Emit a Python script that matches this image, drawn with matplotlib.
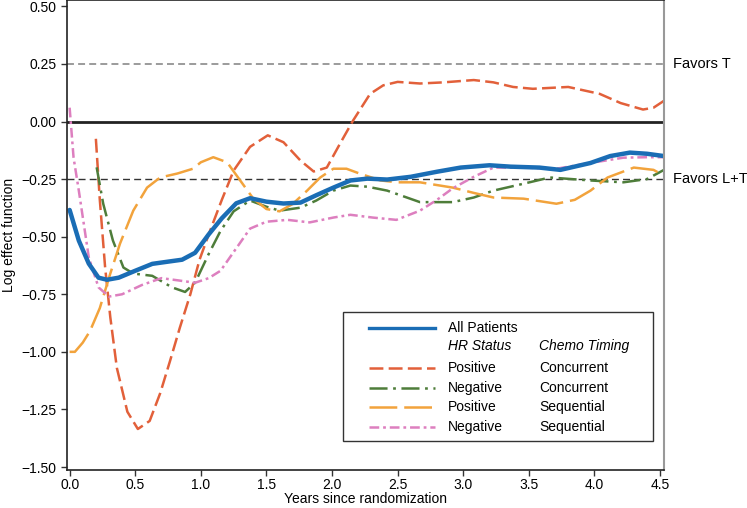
import matplotlib
matplotlib.use("Agg")
import matplotlib.pyplot as plt
import matplotlib.transforms as mtransforms
from matplotlib.patches import Rectangle
from matplotlib.lines import Line2D

plt.rcParams['font.family'] = ['Liberation Sans', 'DejaVu Sans']
plt.rcParams['lines.scale_dashes'] = False

# All patients
all_x = [0, 0.07, 0.146, 0.22, 0.285, 0.374, 0.5, 0.63, 0.755, 0.857, 0.956, 1.06,
         1.16, 1.27, 1.375, 1.5, 1.63, 1.76, 1.88, 2.01, 2.14, 2.27, 2.42, 2.6, 2.8,
         2.98, 3.2, 3.36, 3.58, 3.74, 3.97, 4.12, 4.27, 4.4, 4.53]
all_y = [-0.384, -0.517, -0.617, -0.678, -0.687, -0.678, -0.648, -0.618, -0.608,
         -0.60, -0.57, -0.49, -0.42, -0.355, -0.333, -0.348, -0.356, -0.352, -0.32,
         -0.287, -0.256, -0.248, -0.252, -0.24, -0.218, -0.20, -0.19, -0.196, -0.20,
         -0.21, -0.18, -0.15, -0.135, -0.14, -0.15]

# HR positive, concurrent chemo
pc_x = [0.2, 0.23, 0.27, 0.31, 0.36, 0.44, 0.52, 0.61, 0.69, 0.765, 0.84, 0.92, 0.99,
        1.07, 1.16, 1.25, 1.375, 1.51, 1.63, 1.76, 1.86, 1.96, 2.06, 2.16, 2.29, 2.39,
        2.5, 2.67, 2.85, 3.08, 3.23, 3.38, 3.53, 3.8, 4.04, 4.2, 4.37, 4.45, 4.53]
pc_y = [-0.075, -0.34, -0.63, -0.85, -1.07, -1.26, -1.335, -1.30, -1.18, -1.04,
        -0.895, -0.75, -0.60, -0.475, -0.34, -0.213, -0.11, -0.06, -0.09, -0.17,
        -0.217, -0.20, -0.097, 0.004, 0.12, 0.157, 0.172, 0.165, 0.17, 0.18, 0.17,
        0.15, 0.142, 0.15, 0.12, 0.08, 0.052, 0.06, 0.09]

# HR negative, concurrent chemo
nc_x = [0.206, 0.256, 0.33, 0.41, 0.485, 0.63, 0.78, 0.88, 0.956, 1.06, 1.15, 1.25,
        1.375, 1.5, 1.6, 1.76, 1.88, 2.01, 2.14, 2.27, 2.42, 2.52, 2.67, 2.92, 3.08,
        3.23, 3.46, 3.66, 3.97, 4.22, 4.4, 4.53]
nc_y = [-0.199, -0.357, -0.517, -0.634, -0.66, -0.67, -0.72, -0.74, -0.70, -0.575,
        -0.475, -0.39, -0.343, -0.37, -0.387, -0.374, -0.343, -0.30, -0.278, -0.283,
        -0.30, -0.32, -0.35, -0.35, -0.33, -0.30, -0.27, -0.243, -0.256, -0.264,
        -0.25, -0.21]

# HR positive, sequential chemo
ps_x = [0, 0.04, 0.1, 0.155, 0.23, 0.31, 0.384, 0.485, 0.59, 0.69, 0.82, 0.94, 1.0,
        1.095, 1.2, 1.3, 1.4, 1.5, 1.6, 1.7, 1.81, 1.91, 2.01, 2.11, 2.21, 2.37, 2.5,
        2.67, 2.92, 3.08, 3.23, 3.46, 3.71, 3.85, 3.97, 4.1, 4.3, 4.45, 4.53]
ps_y = [-1.0, -1.0, -0.96, -0.91, -0.81, -0.66, -0.53, -0.387, -0.287, -0.243,
        -0.226, -0.205, -0.177, -0.155, -0.177, -0.256, -0.335, -0.38, -0.39, -0.358,
        -0.30, -0.243, -0.205, -0.205, -0.226, -0.256, -0.264, -0.264, -0.287, -0.31,
        -0.33, -0.335, -0.357, -0.34, -0.30, -0.243, -0.20, -0.21, -0.235]

# HR negative, sequential chemo
ns_x = [0, 0.03, 0.07, 0.146, 0.22, 0.30, 0.40, 0.55, 0.70, 0.83, 0.956, 1.06, 1.15,
        1.375, 1.5, 1.66, 1.83, 2.01, 2.14, 2.31, 2.49, 2.67, 2.8, 2.92, 3.08, 3.23,
        3.46, 3.71, 3.97, 4.22, 4.4, 4.53]
ns_y = [0.06, -0.157, -0.30, -0.59, -0.72, -0.76, -0.75, -0.71, -0.68, -0.69, -0.70,
        -0.68, -0.648, -0.465, -0.435, -0.427, -0.438, -0.417, -0.405, -0.417, -0.427,
        -0.387, -0.34, -0.29, -0.24, -0.20, -0.20, -0.205, -0.18, -0.157, -0.155,
        -0.155]

hr_status = ["Positive", "Negative", "Positive", "Negative"]
chemo_timing = ["Concurrent", "Concurrent", "Sequential", "Sequential"]

blue = "#1a6db5"
red = "#e2603a"
green = "#4e7d3a"
orange = "#f2a33c"
pink = "#dd7fbf"

red_ls = (0, (10, 3.8))
green_ls = (0, (13, 4, 2, 4))
orange_ls = (0, (20, 5))
pink_ls = (0, (7, 2.8, 2, 2.8))

fig = plt.figure(figsize=(7.47, 5.08), dpi=100)
ax = fig.add_axes([0.0897, 0.0748, 0.7992, 0.9245])

ax.axhline(0.25, color="#808080", lw=1.1, ls=(0, (5, 3)))
ax.axhline(-0.25, color="#333333", lw=1.0, ls=(0, (5, 3)))
ax.axhline(0, color="#222222", lw=2.0)

ax.plot(pc_x, pc_y, color=red, lw=1.8, ls=red_ls)
ax.plot(nc_x, nc_y, color=green, lw=1.8, ls=green_ls)
ax.plot(ps_x, ps_y, color=orange, lw=1.8, ls=orange_ls)
ax.plot(ns_x, ns_y, color=pink, lw=1.8, ls=pink_ls)
ax.plot(all_x, all_y, color=blue, lw=3.2, solid_capstyle="round",
        solid_joinstyle="round")

ax.set_xlim(-0.02, 4.53)
ax.set_ylim(-1.513, 0.526)
ax.set_xticks([0, 0.5, 1.0, 1.5, 2.0, 2.5, 3.0, 3.5, 4.0, 4.5])
ax.set_xticklabels([f"{v:.1f}" for v in ax.get_xticks()])
ax.set_yticks([0.5, 0.25, 0, -0.25, -0.5, -0.75, -1.0, -1.25, -1.5])
ax.set_yticklabels([f"{v:.2f}".replace("-", "\u2212") for v in ax.get_yticks()])
ax.tick_params(labelsize=10, length=4, width=1, color="#333333", direction="out")
ax.tick_params(axis="x", pad=2)
ax.set_xlabel("Years since randomization", fontsize=10, labelpad=0)
ax.set_ylabel("Log effect function", fontsize=10, labelpad=4)

for side in ["left", "bottom", "top"]:
    ax.spines[side].set_color("#222222")
    ax.spines[side].set_linewidth(1.2)
ax.spines["right"].set_color("#999999")
ax.spines["right"].set_linewidth(1.5)

trans = mtransforms.blended_transform_factory(ax.transAxes, ax.transData)
ax.text(1.015, 0.25, "Favors T", transform=trans, fontsize=10.5, va="center",
        ha="left", clip_on=False)
ax.text(1.015, -0.25, "Favors L+T", transform=trans, fontsize=10.5, va="center",
        ha="left", clip_on=False)

# legend drawn by hand to get the two text columns
ax.add_patch(Rectangle((0.462, 0.062), 0.52, 0.274, transform=ax.transAxes,
                       facecolor="white", edgecolor="#333333", lw=1.0, zorder=5))
rows = [0.302, 0.264, 0.217, 0.174, 0.134, 0.091]
x0, x1, c1, c2 = 0.506, 0.616, 0.638, 0.791
ax.add_line(Line2D([x0, x1], [rows[0], rows[0]], transform=ax.transAxes,
                   color=blue, lw=2.4, zorder=6))
ax.text(c1, rows[0], "All Patients", transform=ax.transAxes, fontsize=10,
        va="center", zorder=6)
ax.text(c1, rows[1], "HR Status", transform=ax.transAxes, fontsize=10,
        style="italic", va="center", zorder=6)
ax.text(c2, rows[1], "Chemo Timing", transform=ax.transAxes, fontsize=10,
        style="italic", va="center", zorder=6)
for r, col, ls, hr, ct in zip(rows[2:], [red, green, orange, pink],
                              [red_ls, green_ls, orange_ls, pink_ls],
                              hr_status, chemo_timing):
    ax.add_line(Line2D([x0, x1], [r, r], transform=ax.transAxes, color=col,
                       lw=1.8, ls=ls, zorder=6))
    ax.text(c1, r, hr, transform=ax.transAxes, fontsize=10, va="center", zorder=6)
    ax.text(c2, r, ct, transform=ax.transAxes, fontsize=10, va="center", zorder=6)

fig.savefig("out.png", dpi=100, facecolor="white")
